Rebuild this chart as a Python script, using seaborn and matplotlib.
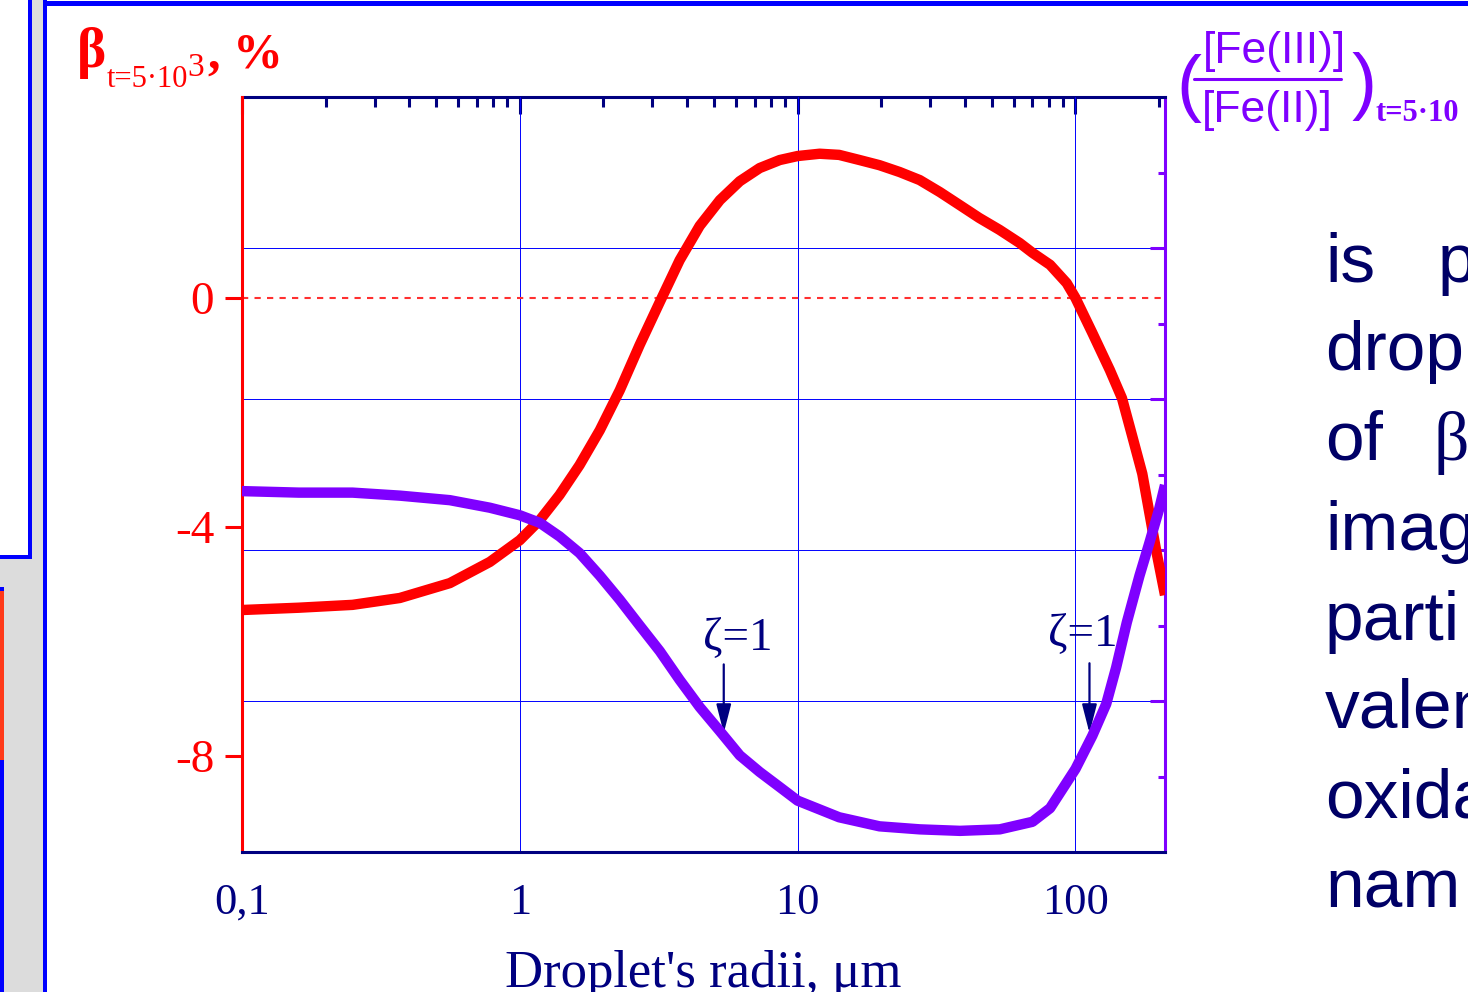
import numpy as np
import pandas as pd
import matplotlib
matplotlib.use('Agg')
import matplotlib.pyplot as plt
import matplotlib.ticker as mticker
from matplotlib.patches import Rectangle
from matplotlib.lines import Line2D
import seaborn as sns

# ---- data ----
# red curve, left axis: beta at t=5*10^3, %
r_beta = [0.1, 0.16, 0.25, 0.37, 0.56, 0.78, 1.0, 1.18, 1.39, 1.64, 1.94, 2.29,
          2.70, 3.19, 3.76, 4.44, 5.25, 6.19, 7.30, 8.62, 10, 12, 14.1, 16.7,
          19.7, 23.3, 27.5, 32.5, 38.4, 45, 53.3, 63, 70, 81, 93, 100, 115,
          133, 147, 160, 174, 195, 210]
beta = [-5.45, -5.41, -5.36, -5.24, -4.98, -4.61, -4.23, -3.88, -3.44, -2.92,
        -2.31, -1.61, -0.82, -0.07, 0.66, 1.26, 1.71, 2.04, 2.27, 2.41, 2.48,
        2.52, 2.50, 2.41, 2.32, 2.20, 2.06, 1.85, 1.62, 1.40, 1.19, 0.96, 0.79,
        0.58, 0.26, 0.0, -0.61, -1.26, -1.75, -2.41, -3.07, -4.40, -5.19]

# purple curve, right axis: [Fe(III)]/[Fe(II)]
r_ratio = [0.1, 0.16, 0.25, 0.37, 0.56, 0.78, 1.0, 1.18, 1.39, 1.64, 1.94, 2.29,
           2.70, 3.19, 3.76, 4.44, 5.25, 6.19, 7.30, 8.62, 10, 14.1, 19.7, 27.5,
           38.4, 53.4, 70, 81, 100, 115, 129, 140, 153, 170, 184, 200, 210]
ratio = [2.39, 2.38, 2.38, 2.36, 2.33, 2.28, 2.23, 2.18, 2.09, 1.98, 1.83, 1.67,
         1.50, 1.33, 1.14, 0.96, 0.80, 0.64, 0.53, 0.43, 0.34, 0.23, 0.17, 0.15,
         0.14, 0.15, 0.20, 0.29, 0.55, 0.77, 0.98, 1.22, 1.52, 1.83, 2.04, 2.27,
         2.43]

x_ticks = [0.1, 1, 10, 100]
x_labels = ['0,1', '1', '10', '100']
beta_ticks = [0, -4, -8]
beta_labels = ['0', '-4', '-8']
ratio_major = [1, 2, 3, 4]
ratio_minor = [0.5, 1.5, 2.5, 3.5, 4.5]

body_lines = ['drop', 'imag', 'parti', 'valen', 'oxida', 'nam']

RED = '#ff0000'
PURPLE = '#7f00ff'
NAVY = '#000080'
TEXT = '#000066'
GRID = '#0000ff'

sns.set_style('white')
plt.rcParams['font.family'] = ['Liberation Serif', 'DejaVu Serif']

W, H = 1468, 992
fig = plt.figure(figsize=(W / 100, H / 100), dpi=100)


def fx(px):
    return px / W


def fy(py):
    return 1 - py / H


def rect(x0, y0, x1, y1, color):
    fig.patches.append(Rectangle((fx(x0), fy(y1)), fx(x1) - fx(x0), fy(y0) - fy(y1),
                                 transform=fig.transFigure, color=color, lw=0, zorder=0))


# slide frame
rect(0, 0, 44, 992, '#dcdcdc')
rect(0, 0, 29, 556, 'white')
rect(28, 0, 32, 559, GRID)
rect(0, 555, 32, 559, GRID)
rect(0, 587, 4, 591, GRID)
rect(0, 591, 4, 760, '#ff3a1a')
rect(0, 760, 4, 992, GRID)
rect(43, 0, 47, 992, GRID)
rect(43, 1, 1468, 6, GRID)

ax = fig.add_axes([fx(242), fy(852), fx(1165) - fx(242), fy(97) - fy(852)])
axg = ax.twinx()
axp = ax.twinx()
axg.set_zorder(0)
ax.set_zorder(1)
axp.set_zorder(2)
ax.patch.set_visible(False)
axg.patch.set_visible(False)

ax.set_xscale('log')
ax.set_xlim(0.1, 210)
ax.set_ylim(-9.677, 3.511)
axg.set_ylim(0, 5)
axp.set_ylim(0, 5)

# curves
sns.lineplot(x=r_beta, y=beta, ax=ax, color=RED, lw=7.5,
             solid_joinstyle='round', solid_capstyle='butt')
sns.lineplot(x=r_ratio, y=ratio, ax=axp, color=PURPLE, lw=7.5,
             solid_joinstyle='round', solid_capstyle='butt')
ax.axhline(0, color='#ff3030', lw=1.5, dashes=(3, 3), zorder=1.8)
axp.axis('off')

# x axis
ax.set_xticks(x_ticks, x_labels)
ax.xaxis.set_minor_locator(mticker.LogLocator(base=10, subs=np.arange(2, 10)))
ax.xaxis.set_minor_formatter(mticker.NullFormatter())
ax.tick_params(axis='x', which='major', direction='out', length=12, width=2.2,
               color=NAVY, labelcolor=NAVY, labelsize=32, pad=10)
ax.tick_params(axis='x', which='minor', direction='out', length=7, width=2.2, color=NAVY)
ax.set_xlabel("Droplet's radii, μm", fontsize=38, color=NAVY, labelpad=20)

axg.xaxis.set_visible(True)
axg.xaxis.tick_top()
axg.tick_params(axis='x', which='both', direction='in', color=NAVY, width=2.2,
                labeltop=False, labelbottom=False)
axg.tick_params(axis='x', which='major', length=12)
axg.tick_params(axis='x', which='minor', length=7)

# left axis
ax.set_yticks(beta_ticks, beta_labels)
ax.tick_params(axis='y', which='major', direction='out', length=12, width=2.2,
               color=RED, labelcolor=RED, labelsize=34, pad=8)
ax.set_ylabel('')

# right axis
axg.set_yticks(ratio_major)
axg.set_yticks(ratio_minor, minor=True)
axg.tick_params(axis='y', which='major', direction='in', length=11, width=2.2,
                color=PURPLE, labelright=False)
axg.tick_params(axis='y', which='minor', direction='in', length=5, width=2.2,
                color=PURPLE)

# grid
ax.grid(axis='x', which='major', color=GRID, lw=0.7)
axg.grid(axis='y', which='major', color=GRID, lw=0.7)

# spines
for s in ['top', 'right']:
    ax.spines[s].set_visible(False)
ax.spines['left'].set_color(RED)
ax.spines['bottom'].set_color(NAVY)
for s in ['left', 'bottom']:
    ax.spines[s].set_linewidth(2.2)
    axg.spines[s].set_visible(False)
axg.spines['right'].set_color(PURPLE)
axg.spines['top'].set_color(NAVY)
for s in ['right', 'top']:
    axg.spines[s].set_linewidth(2.2)

# zeta annotations
for tip, start, lab in [((5.42, -7.60), (5.42, -6.40), (6.09, -5.95)),
                        ((112.3, -7.60), (112.3, -6.38), (106, -5.88))]:
    ax.annotate('', xy=tip, xytext=start,
                arrowprops=dict(arrowstyle='-|>,head_length=0.7,head_width=0.18',
                                color=NAVY, lw=1.6, mutation_scale=25,
                                shrinkA=0, shrinkB=0))
    ax.text(lab[0], lab[1], 'ζ=1', fontsize=34, color=NAVY, ha='center', va='center')

# left axis title
fig.text(fx(77), fy(67), 'β', fontsize=40, fontweight='bold', color=RED, va='baseline')
fig.text(fx(107), fy(87), 't=5·10', fontsize=22, color=RED, va='baseline')
fig.text(fx(187), fy(76), '3', fontsize=24, color=RED, va='baseline')
fig.text(fx(208), fy(68), ', %', fontsize=36, fontweight='bold', color=RED, va='baseline')

# right axis title
sans = ['Liberation Sans', 'DejaVu Sans']
fig.text(fx(1176), fy(108), '(', fontsize=54, color=PURPLE, family=sans, va='baseline')
fig.text(fx(1274), fy(63), '[Fe(III)]', fontsize=32, color=PURPLE, family=sans,
         ha='center', va='baseline')
fig.lines.append(Line2D([fx(1194), fx(1341)], [fy(79), fy(79)], transform=fig.transFigure,
                        color=PURPLE, lw=2.2))
fig.text(fx(1267), fy(122), '[Fe(II)]', fontsize=32, color=PURPLE, family=sans,
         ha='center', va='baseline')
fig.text(fx(1352), fy(106), ')', fontsize=54, color=PURPLE, family=sans, va='baseline')
fig.text(fx(1376), fy(121), 't=5·10', fontsize=22, fontweight='bold', color=PURPLE,
         va='baseline')

# slide body text, cut at the right edge
fig.text(fx(1325), fy(282), 'is', fontsize=50, color=TEXT, family=sans, va='baseline')
fig.text(fx(1438), fy(282), 'p', fontsize=50, color=TEXT, family=sans, va='baseline')
fig.text(fx(1325), fy(460), 'of', fontsize=50, color=TEXT, family=sans, va='baseline')
fig.text(fx(1434), fy(460), 'β', fontsize=50, color=TEXT, va='baseline')
for word, base in zip(body_lines, [370, 550, 640, 728, 818, 908]):
    fig.text(fx(1325), fy(base), word, fontsize=50, color=TEXT, family=sans, va='baseline')

fig.savefig('out.png', dpi=100)
